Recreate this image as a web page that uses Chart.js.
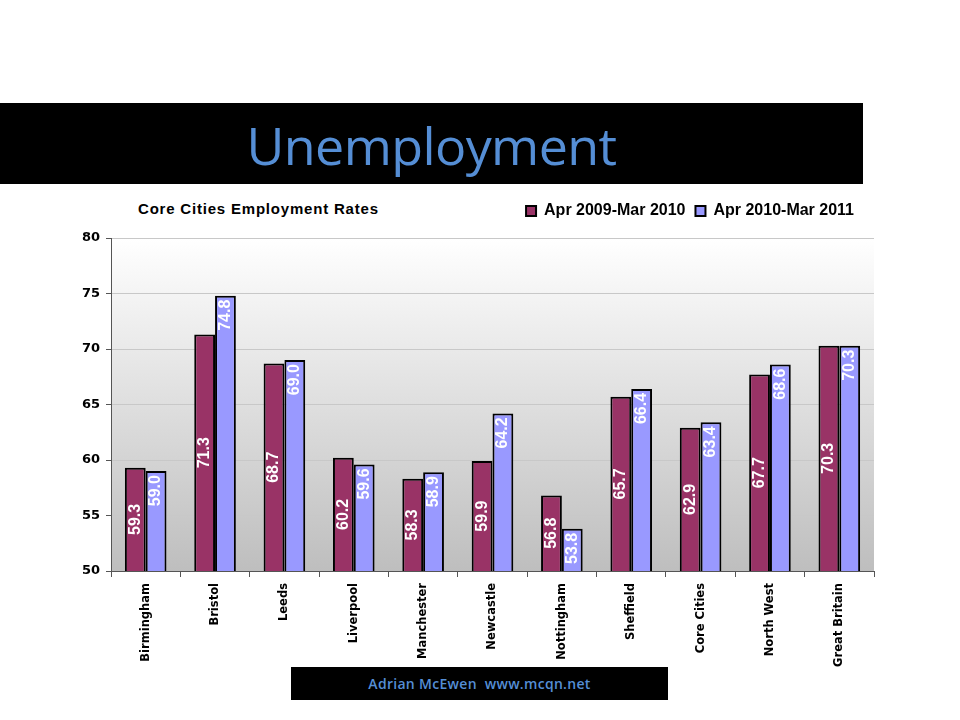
<!DOCTYPE html>
<html>
<head>
<meta charset="utf-8">
<script src="https://cdn.jsdelivr.net/npm/chart.js@4.4.1/dist/chart.umd.min.js"></script>
<style>
  html, body { margin: 0; padding: 0; width: 960px; height: 720px; background: #fff; overflow: hidden; }
  #titlebar { position: absolute; left: 0; top: 103px; width: 863px; height: 81px; background: #000; }
  #titlebar span { position: absolute; left: 0; width: 863px; top: 6px; text-align: center; font-family: "Open Sans", sans-serif; font-size: 52px; color: #558ED5; letter-spacing: -0.6px; }
  #charttitle { position: absolute; left: 138px; top: 200px; font-family: "Liberation Sans", Arial, sans-serif; font-weight: bold; font-size: 15px; color: #000; letter-spacing: 0.8px; }
  #wrap { position: absolute; left: 0; top: 193px; width: 960px; height: 480px; }
  #footer { position: absolute; left: 291px; top: 667px; width: 377px; height: 33px; background: #000; z-index: 2; }
  #footer span { position: absolute; left: 0; width: 377px; top: 7px; text-align: center; font-family: "Open Sans", sans-serif; font-size: 14px; font-weight: 600; color: #558ED5; letter-spacing: 0.3px; }
</style>
</head>
<body>
<div id="titlebar"><span>Unemployment</span></div>
<div id="charttitle">Core Cities Employment Rates</div>
<div id="wrap"><canvas id="c"></canvas></div>
<div id="footer"><span>Adrian McEwen&nbsp;&nbsp;www.mcqn.net</span></div>
<script>
const categories = ["Birmingham", "Bristol", "Leeds", "Liverpool", "Manchester", "Newcastle", "Nottingham", "Sheffield", "Core Cities", "North West", "Great Britain"];
const series2009 = [59.3, 71.3, 68.7, 60.2, 58.3, 59.9, 56.8, 65.7, 62.9, 67.7, 70.3];
const series2010 = [59.0, 74.8, 69.0, 59.6, 58.9, 64.2, 53.8, 66.4, 63.4, 68.6, 70.3];
const seriesNames = ["Apr 2009-Mar 2010", "Apr 2010-Mar 2011"];
const yTicks = [50, 55, 60, 65, 70, 75, 80];

const bgPlugin = {
  id: 'bgGradient',
  beforeDraw(chart) {
    const { ctx, chartArea: a } = chart;
    const g = ctx.createLinearGradient(0, a.top, 0, a.bottom);
    g.addColorStop(0, '#ffffff');
    g.addColorStop(1, '#bebebe');
    ctx.save();
    ctx.fillStyle = g;
    ctx.fillRect(a.left, a.top, a.right - a.left, a.bottom - a.top);
    ctx.restore();
  }
};

const legendSpacer = {
  id: 'legendSpacer',
  beforeLayout(chart) {
    const lg = chart.legend;
    if (lg && !lg._spaced) {
      const f = lg.fit;
      lg.fit = function () { f.call(this); this.height += 9; };
      const d = lg.draw;
      lg.draw = function () {
        const ctx = this.ctx;
        ctx.save();
        ctx.translate(-10, 0);
        d.call(this);
        ctx.restore();
      };
      lg._spaced = true;
    }
  }
};

const labelPlugin = {
  id: 'barLabels',
  afterDatasetsDraw(chart) {
    const ctx = chart.ctx;
    const ys = chart.scales.y;
    const base = ys.getPixelForValue(ys.min);
    chart.data.datasets.forEach((ds, di) => {
      const meta = chart.getDatasetMeta(di);
      meta.data.forEach((bar, i) => {
        const x = bar.x;
        const top = ys.getPixelForValue(ds.data[i]);
        const txt = ds.data[i].toFixed(1);
        ctx.save();
        ctx.font = 'bold 16px "Liberation Sans", Arial, sans-serif';
        ctx.fillStyle = '#ffffff';
        ctx.textBaseline = 'middle';
        if (di === 0) {
          ctx.translate(x, (top + base) / 2);
          ctx.rotate(-Math.PI / 2);
          ctx.textAlign = 'center';
        } else {
          ctx.translate(x, top + 4);
          ctx.rotate(-Math.PI / 2);
          ctx.textAlign = 'right';
        }
        ctx.fillText(txt, 0, 0);
        ctx.restore();
      });
    });
  }
};

new Chart(document.getElementById('c'), {
  type: 'bar',
  data: {
    labels: categories,
    datasets: [
      { label: seriesNames[0], data: series2009, backgroundColor: '#993366', borderColor: '#000000', borderWidth: 2, borderSkipped: 'start' },
      { label: seriesNames[1], data: series2010, backgroundColor: '#9999FF', borderColor: '#000000', borderWidth: 2, borderSkipped: 'start' }
    ]
  },
  options: {
    responsive: true,
    maintainAspectRatio: false,
    animation: false,
    layout: { padding: { left: 61, right: 86, top: 0, bottom: 0 } },
    datasets: { bar: { categoryPercentage: 0.6, barPercentage: 1.0 } },
    plugins: {
      title: { display: false },
      tooltip: { enabled: false },
      legend: {
        display: true,
        position: 'top',
        align: 'end',
        labels: {
          boxWidth: 10,
          boxHeight: 10,
          padding: 10,
          color: '#000',
          font: { family: '"Liberation Sans", Arial, sans-serif', size: 16, weight: 'bold' }
        }
      }
    },
    scales: {
      x: {
        afterFit(s) { s.height = 102; },
        grid: { display: true, offset: true, drawOnChartArea: false, drawTicks: true, tickLength: 6, tickColor: '#555', lineWidth: 1 },
        border: { display: true, color: '#555', width: 1 },
        ticks: {
          minRotation: 90, maxRotation: 90, autoSkip: false, padding: 6,
          color: '#000',
          font: { family: '"DejaVu Sans", Verdana, sans-serif', size: 11.5, weight: 'bold' }
        }
      },
      y: {
        min: 50, max: 80,
        afterFit(s) { s.width = 50; },
        afterBuildTicks(s) { s.ticks = yTicks.map(v => ({ value: v })); },
        grid: { color: '#c8c8c8', lineWidth: 1, drawTicks: true, tickLength: 5, tickColor: '#555' },
        border: { display: true, color: '#555', width: 1 },
        ticks: {
          padding: 6,
          color: '#000',
          font: { family: '"DejaVu Sans", Verdana, sans-serif', size: 13, weight: 'bold' }
        }
      }
    }
  },
  plugins: [bgPlugin, legendSpacer, labelPlugin]
});
</script>
</body>
</html>
